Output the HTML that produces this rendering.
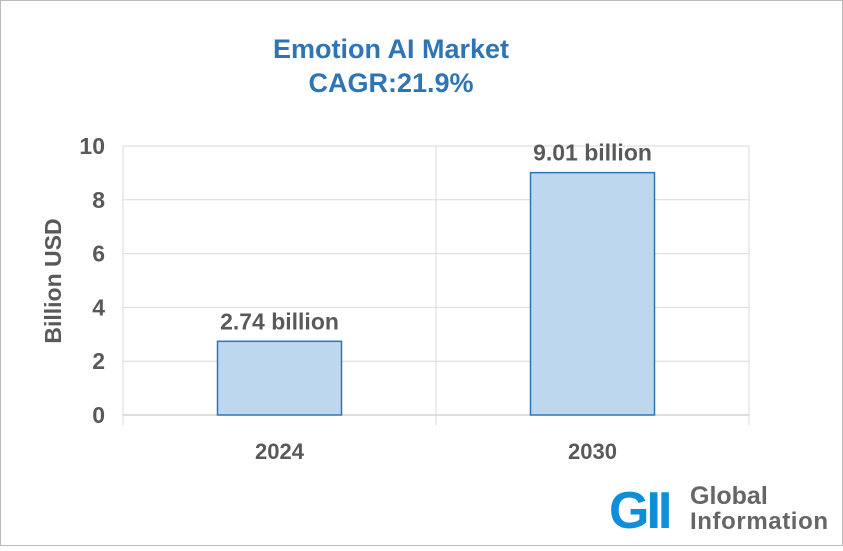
<!DOCTYPE html>
<html><head><meta charset="utf-8"><style>
body{margin:0;width:843px;height:546px;background:#fff;overflow:hidden;font-family:"Liberation Sans",sans-serif}
</style></head><body>
<svg width="843" height="546">
<rect x="0.5" y="0.5" width="842" height="545" fill="#fff" stroke="#bbb"/>
<text x="391" y="58" text-anchor="middle" font-size="27" font-weight="bold" fill="#2e75b6">Emotion AI Market</text>
<text x="391" y="92" text-anchor="middle" font-size="27" font-weight="bold" fill="#2e75b6">CAGR:21.9%</text>
<text transform="translate(61,281) rotate(-90)" text-anchor="middle" font-size="23" font-weight="bold" fill="#595959">Billion USD</text>
<g id="plot"></g>
<g>
<text x="609" y="528" font-size="52" font-weight="bold" fill="#0e8fd8" letter-spacing="-3">GII</text>
<text x="690" y="504" font-size="25" font-weight="bold" fill="#666">Global</text>
<text x="690" y="529" font-size="24" font-weight="bold" fill="#666" textLength="138">Information</text>
</g>
</svg>
<script>
const categories=["2024","2030"];
const values=[2.74,9.01];
const valueLabels=["2.74 billion","9.01 billion"];
const yTicks=[0,2,4,6,8,10];
const NS="http://www.w3.org/2000/svg";
const g=document.getElementById('plot');
const x0=123,x1=749,yTop=146,yBot=415,yMax=10;
const y=v=>yBot-(v/yMax)*(yBot-yTop);
const band=(x1-x0)/categories.length;
const cx=i=>x0+band*(i+0.5);
function mk(t,a){const e=document.createElementNS(NS,t);for(const k in a)e.setAttribute(k,a[k]);g.appendChild(e);return e;}
yTicks.forEach(t=>{
 const l=mk('line',{x1:x0,x2:x1,y1:y(t),y2:y(t),stroke:t===0?'#bfbfbf':'#d9d9d9'});
 
 
 const tx=mk('text',{x:x0-18,y:y(t)+8,'text-anchor':'end','font-size':23,'font-weight':'bold',fill:'#595959'});
 tx.textContent=t;
 
 
});
for(let i=0;i<=categories.length;i++){
 const xx=x0+band*i;
 const l=mk('line',{x1:xx,x2:xx,y1:yTop,y2:yBot+10,stroke:'#d9d9d9'});
 
 
}
categories.forEach((c,i)=>{
 const bw=124;
 const r=mk('rect',{x:cx(i)-bw/2,y:y(values[i]),width:bw,height:yBot-y(values[i]),fill:'#bdd7ee',stroke:'#2e75b6','stroke-width':1.5});
 
 
 const vl=mk('text',{x:cx(i),y:y(values[i])-12,'text-anchor':'middle','font-size':23,'font-weight':'bold',fill:'#595959'});
 vl.textContent=valueLabels[i];
 
 
 const xl=mk('text',{x:cx(i),y:459,'text-anchor':'middle','font-size':22,'font-weight':'bold',fill:'#595959'});
 xl.textContent=c;
 
 
});
</script>
</body></html>
